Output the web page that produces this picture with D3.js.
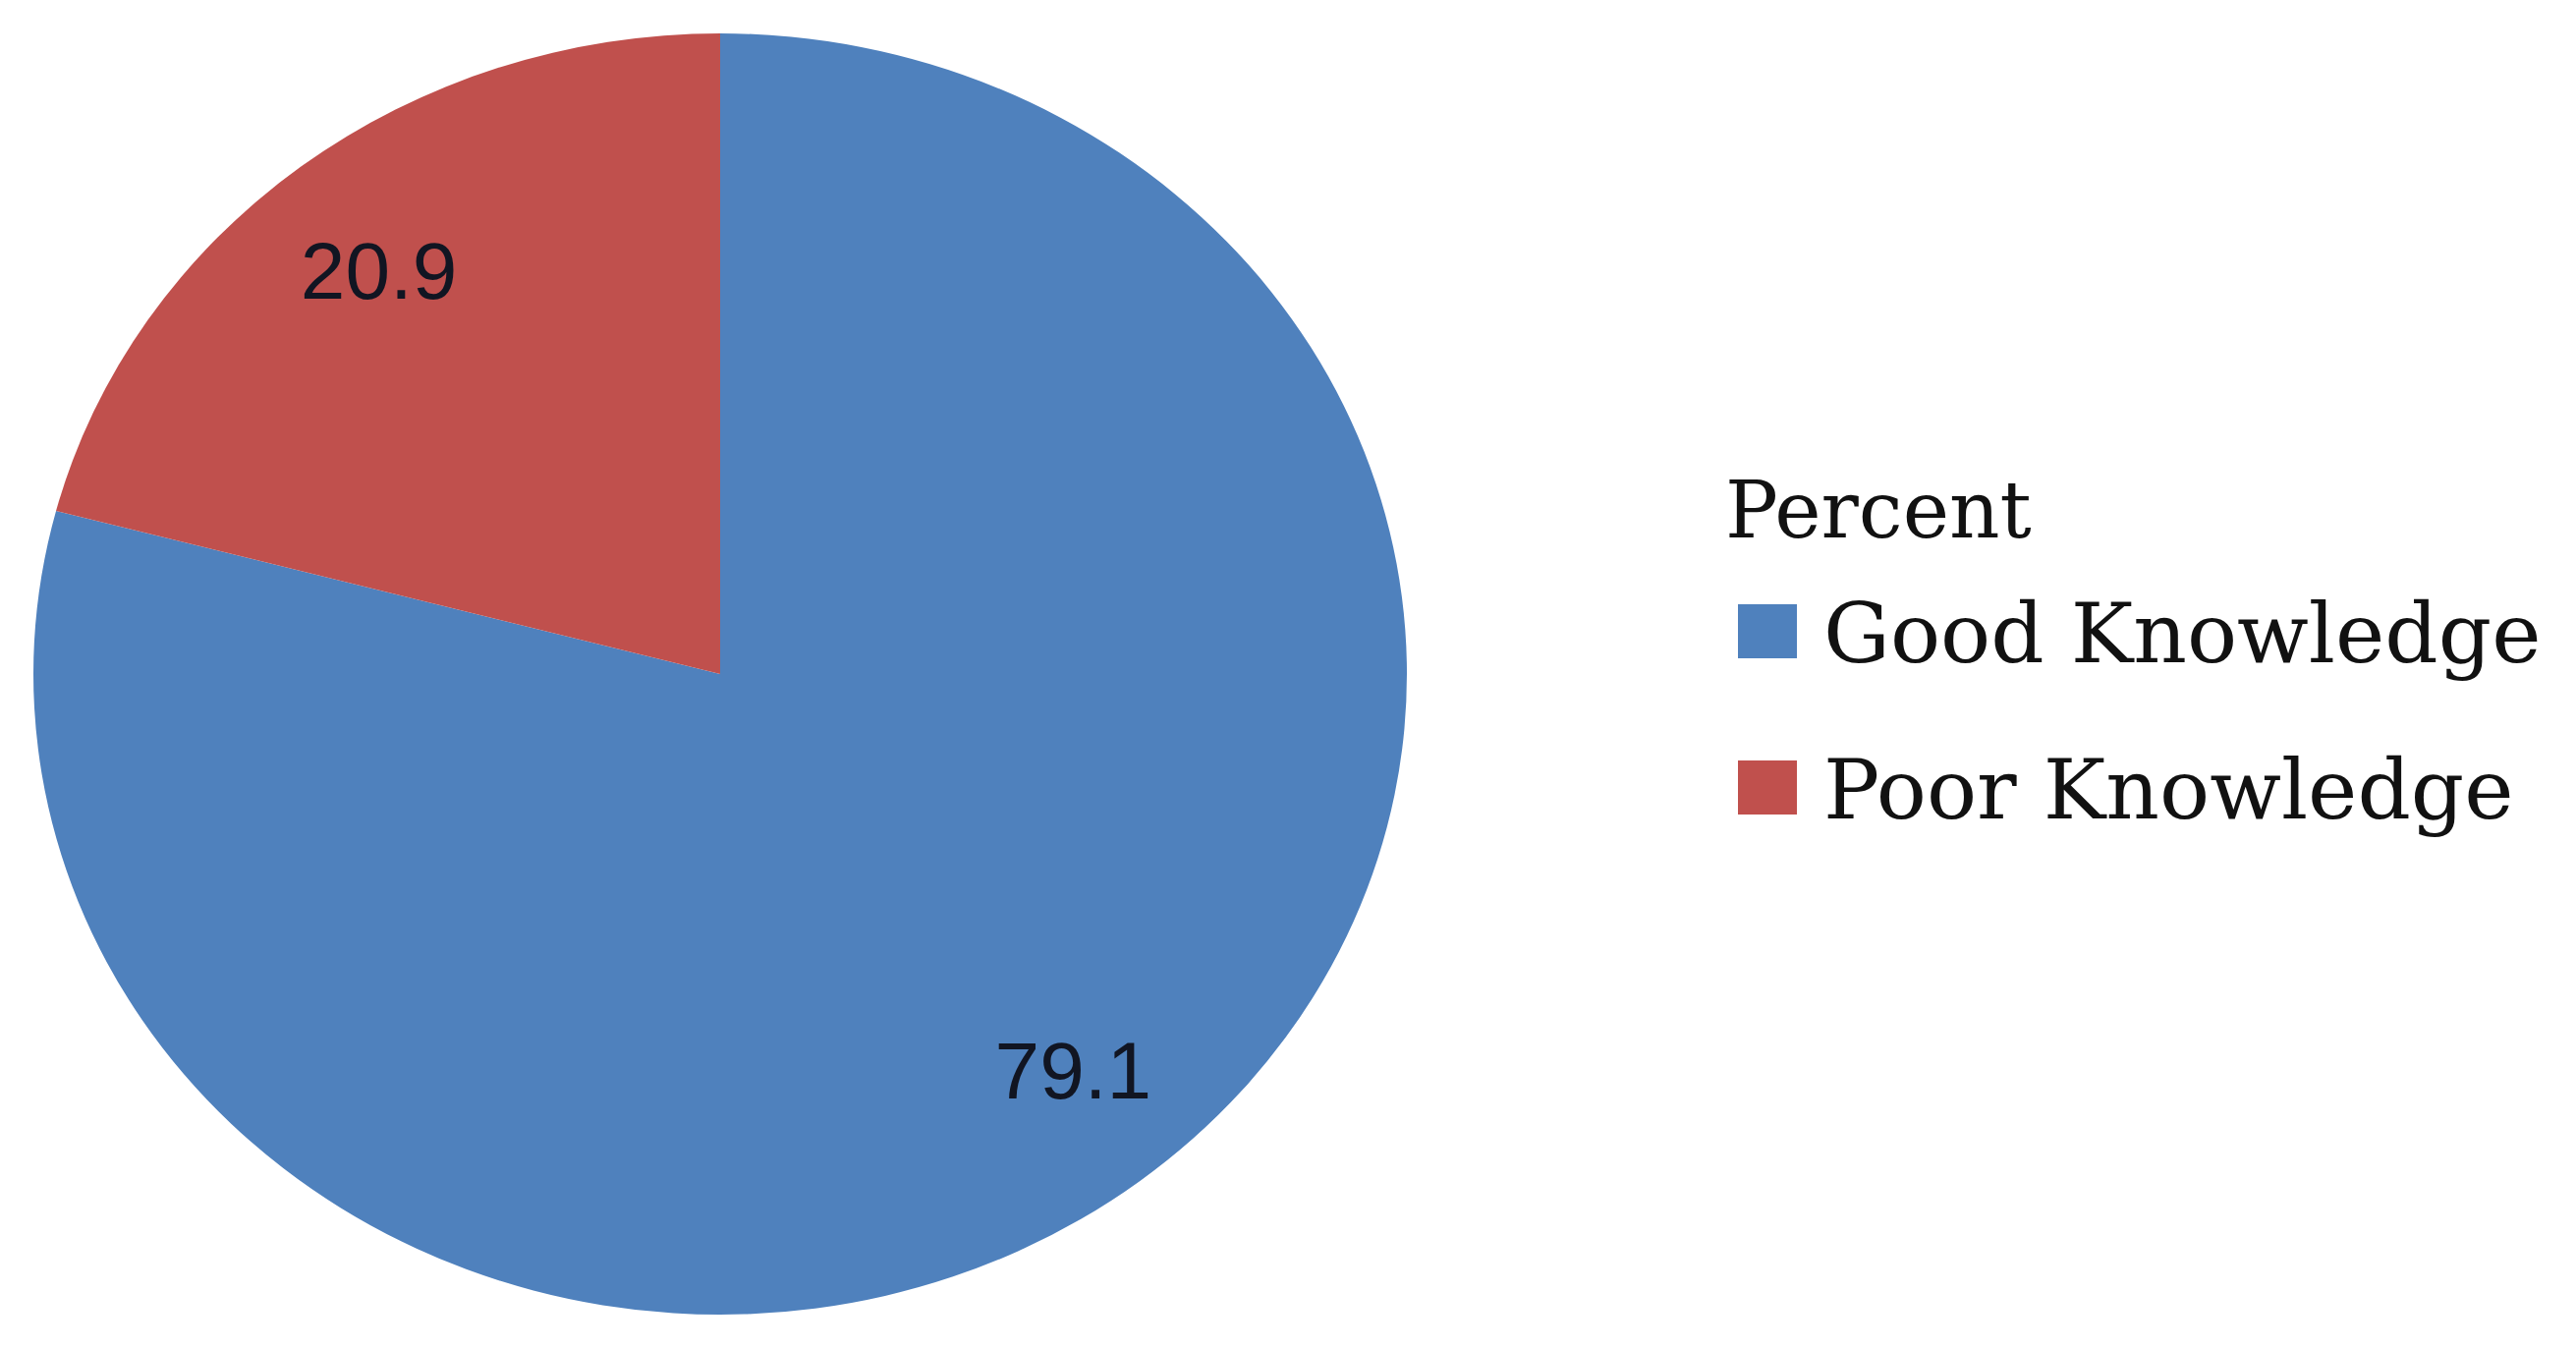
<!DOCTYPE html>
<html>
<head>
<meta charset="utf-8">
<script src="https://cdn.jsdelivr.net/npm/d3@7"></script>
<style>
  html, body { margin: 0; padding: 0; background: #ffffff; }
  svg { display: block; }
</style>
</head>
<body>
<svg id="chart" width="2622" height="1373"></svg>
<script>
const categories = ["Good Knowledge", "Poor Knowledge"];
const values = [79.1, 20.9];
const labels = ["79.1", "20.9"];
const legendTitle = "Percent";
const colors = ["#4F81BD", "#C0504D"];

const W = 2622, H = 1373;
const cx = 733, cy = 686;
const rx = 699, ry = 652;

const svg = d3.select("#chart");
svg.append("rect").attr("width", W).attr("height", H).attr("fill", "#ffffff");

const color = d3.scaleOrdinal().domain(categories).range(colors);
const pie = d3.pie().sort(null).value(d => d.value);
const data = pie(categories.map((c, i) => ({ name: c, value: values[i], label: labels[i] })));

const arc = d3.arc().innerRadius(0).outerRadius(rx);
const labelArc = d3.arc().innerRadius(rx * 0.8).outerRadius(rx * 0.8);

const g = svg.append("g").attr("transform", `translate(${cx},${cy}) scale(1,${ry / rx})`);
g.selectAll("path.slice")
  .data(data)
  .enter().append("path")
  .attr("class", "slice")
  .attr("d", arc)
  .attr("fill", d => color(d.data.name));

const lg = svg.append("g").attr("transform", `translate(${cx},${cy})`);
lg.selectAll("text.lbl")
  .data(data)
  .enter().append("text")
  .attr("class", "lbl")
  .attr("x", d => labelArc.centroid(d)[0] + (d.index === 0 ? 18 : -6))
  .attr("y", d => labelArc.centroid(d)[1] * ry / rx + (d.index === 0 ? -10 : 3))
  .attr("text-anchor", "middle")
  .attr("dominant-baseline", "central")
  .attr("font-family", "'Liberation Sans', Arial, sans-serif")
  .attr("font-size", 82)
  .attr("fill", "#111522")
  .text(d => d.data.label);

// legend
const legend = svg.append("g");
legend.append("text")
  .attr("x", 1756).attr("y", 547)
  .attr("font-family", "'DejaVu Serif', serif")
  .attr("font-size", 80)
  .attr("fill", "#111111")
  .text(legendTitle);

const rowY = d3.scalePoint().domain(categories).range([674, 833]);
const items = legend.selectAll("g.item")
  .data(categories)
  .enter().append("g").attr("class", "item");
items.append("rect")
  .attr("x", 1769).attr("y", d => rowY(d) - 59)
  .attr("width", 60).attr("height", 55)
  .attr("fill", d => color(d));
items.append("text")
  .attr("x", 1856).attr("y", d => rowY(d))
  .attr("font-family", "'DejaVu Serif', serif")
  .attr("font-size", 85)
  .attr("fill", "#111111")
  .text(d => d);
</script>
</body>
</html>
